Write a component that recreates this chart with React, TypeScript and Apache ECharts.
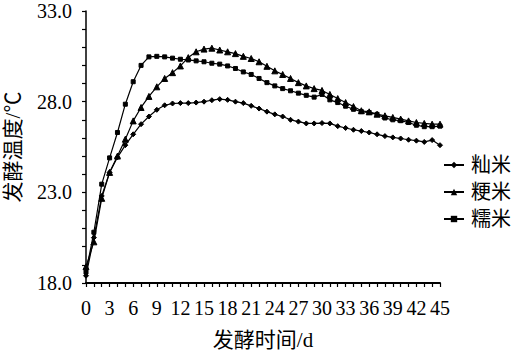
import React, { useEffect, useRef } from "react";
import * as echarts from "echarts";

const days: number[] = Array.from({ length: 46 }, (_, i) => i);

const seriesNames = ["籼米", "粳米", "糯米"];

const xianMi = [
  18.4, 20.5, 22.8, 24.1, 24.93, 25.6, 26.2, 26.76, 27.18, 27.55, 27.8, 27.9,
  27.92, 27.92, 27.95, 28.0, 28.08, 28.14, 28.1, 28.0, 27.92, 27.77, 27.62,
  27.45, 27.3, 27.18, 27.0, 26.9, 26.8, 26.8, 26.82, 26.8, 26.65, 26.55, 26.45,
  26.38, 26.3, 26.2, 26.1, 26.03, 25.97, 25.9, 25.85, 25.78, 25.88, 25.6,
];

const gengMi = [
  18.9, 20.27, 22.67, 24.1, 25.0, 25.93, 26.94, 27.68, 28.29, 28.82, 29.28,
  29.6, 29.97, 30.43, 30.75, 30.9, 30.95, 30.85, 30.75, 30.65, 30.5, 30.38,
  30.2, 29.95, 29.7, 29.5, 29.28, 29.05, 28.87, 28.72, 28.62, 28.4, 28.17,
  27.95, 27.73, 27.5, 27.44, 27.31, 27.22, 27.13, 27.04, 26.94, 26.85, 26.8,
  26.76, 26.76,
];

const nuoMi = [
  18.6, 20.8, 23.45, 24.9, 26.3, 27.86, 29.1, 30.0, 30.47, 30.5, 30.47, 30.4,
  30.34, 30.3, 30.25, 30.2, 30.12, 30.07, 29.97, 29.83, 29.64, 29.5, 29.28,
  29.05, 28.87, 28.72, 28.6, 28.47, 28.35, 28.25, 28.4, 28.1, 27.95, 27.75,
  27.58, 27.45, 27.4, 27.3, 27.1, 27.0, 26.95, 26.85, 26.7, 26.62, 26.62, 26.65,
];

const seriesData = [xianMi, gengMi, nuoMi];
const symbols = ["diamond", "triangle", "rect"];
const symbolSizes = [5, 6, 4];

const xAxisName = "发酵时间/d";
const yAxisName = "发酵温度/℃";

const FONT = "Liberation Serif, Noto Sans CJK SC, serif";

export default function App() {
  const ref = useRef<HTMLDivElement>(null);

  useEffect(() => {
    if (!ref.current) return;
    const chart = echarts.init(ref.current, null, { renderer: "svg" });
    chart.setOption({
      animation: false,
      backgroundColor: "#ffffff",
      grid: {
        left: 86,
        right: 72,
        top: 11,
        bottom: 68,
        containLabel: false,
        outerBoundsMode: "none",
      },
      legend: {
        orient: "vertical",
        left: 438,
        top: 150,
        itemWidth: 20,
        itemHeight: 8,
        itemGap: 7,
        data: seriesNames,
        textStyle: {
          fontFamily: FONT,
          fontSize: 20,
          color: "#000",
          lineHeight: 20,
          padding: [0, 0, 0, 2],
        },
      },
      xAxis: {
        type: "value",
        min: 0,
        max: 45,
        interval: 3,
        name: xAxisName,
        nameLocation: "middle",
        nameGap: 46,
        nameTextStyle: { fontFamily: FONT, fontSize: 21, color: "#000" },
        axisLine: { show: true, onZero: false, lineStyle: { color: "#000", width: 2 } },
        axisTick: { show: true, length: 4, lineStyle: { color: "#000", width: 1.2 } },
        minorTick: { show: true, splitNumber: 3, length: 4, lineStyle: { color: "#000", width: 1.2 } },
        splitLine: { show: false },
        minorSplitLine: { show: false },
        axisLabel: {
          fontFamily: FONT,
          fontSize: 20,
          color: "#000",
          margin: 15,
        },
      },
      yAxis: {
        type: "value",
        min: 18,
        max: 33,
        interval: 5,
        name: yAxisName,
        nameLocation: "middle",
        nameGap: 63,
        nameTextStyle: { fontFamily: FONT, fontSize: 21, color: "#000" },
        axisLine: { show: true, lineStyle: { color: "#000", width: 1.5 } },
        axisTick: { show: true, length: 4, lineStyle: { color: "#000", width: 1.2 } },
        minorTick: { show: true, splitNumber: 5, length: 4, lineStyle: { color: "#000", width: 1.2 } },
        splitLine: { show: false },
        minorSplitLine: { show: false },
        axisLabel: {
          fontFamily: FONT,
          fontSize: 20,
          color: "#000",
          margin: 14,
          formatter: (v: number) => v.toFixed(1),
        },
      },
      series: seriesNames.map((name, i) => ({
        name,
        type: "line",
        data: days.map((d, j) => [d, seriesData[i][j]]),
        symbol: symbols[i],
        symbolSize: symbolSizes[i],
        showSymbol: true,
        lineStyle: { color: "#000", width: 1.2 },
        itemStyle: { color: "#000", borderColor: "#000" },
        emphasis: { disabled: true },
      })),
    });
    return () => chart.dispose();
  }, []);

  return (
    <div
      ref={ref}
      style={{ position: "absolute", left: 0, top: 0, width: 512, height: 351 }}
    />
  );
}
